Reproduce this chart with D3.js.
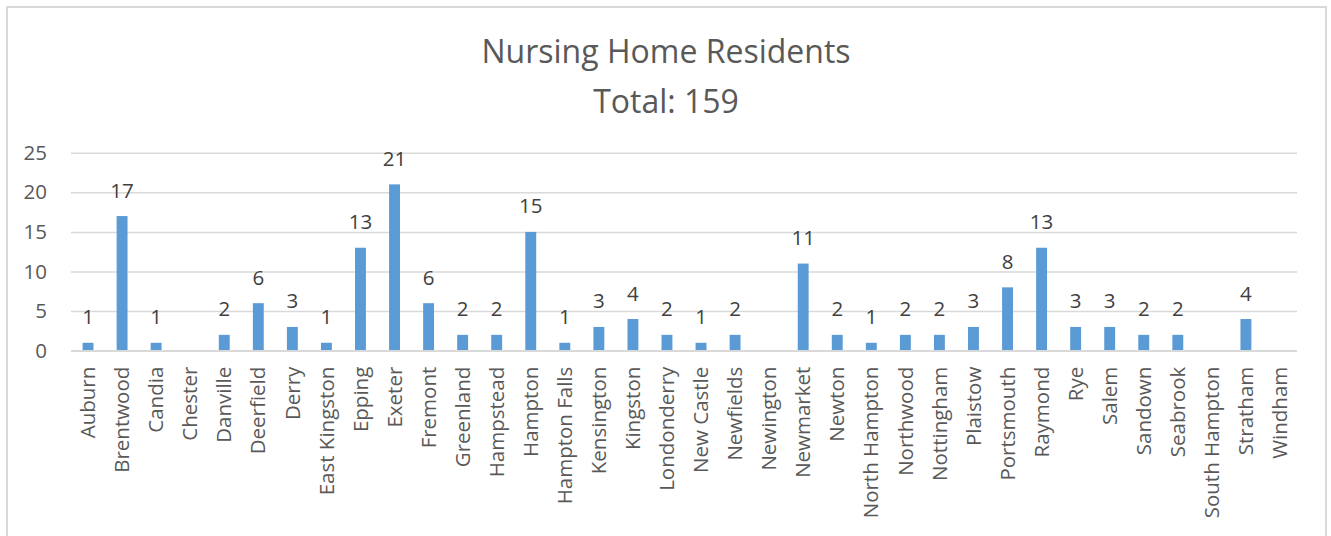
<!DOCTYPE html>
<html>
<head>
<meta charset="utf-8">
<script src="https://cdn.jsdelivr.net/npm/d3@7"></script>
<style>
  body { margin: 0; background: #fff; }
  svg { display: block; font-family: "Open Sans", sans-serif; }
</style>
</head>
<body>
<div id="chart"></div>
<script>
// towns and number of nursing home residents (null = no bar, no label)
const towns = ['Auburn', 'Brentwood', 'Candia', 'Chester', 'Danville', 'Deerfield', 'Derry',
    'East Kingston', 'Epping', 'Exeter', 'Fremont', 'Greenland', 'Hampstead', 'Hampton',
    'Hampton Falls', 'Kensington', 'Kingston', 'Londonderry', 'New Castle', 'Newfields',
    'Newington', 'Newmarket', 'Newton', 'North Hampton', 'Northwood', 'Nottingham',
    'Plaistow', 'Portsmouth', 'Raymond', 'Rye', 'Salem', 'Sandown', 'Seabrook',
    'South Hampton', 'Stratham', 'Windham'];
const residents = [1, 17, 1, null, 2, 6, 3, 1, 13, 21, 6, 2, 2, 15, 1, 3, 4, 2, 1, 2,
    null, 11, 2, 1, 2, 2, 3, 8, 13, 3, 3, 2, 2, null, 4, null];
const yTicks = [0, 5, 10, 15, 20, 25];
const titleLines = ['Nursing Home Residents', 'Total: 159'];

drawChart('#chart');

function drawChart(el) {
    const pageWidth = 1331;
    const pageHeight = 536;
    const left = 71, right = 1297, top = 152.7, bottom = 350.7;
    const textColor = '#595959';
    const gridColor = '#d9d9d9';
    const barColor = '#5b9bd5';
    const fontSize = '20.5px';

    const data = towns.map((t, i) => ({ town: t, value: residents[i] }));

    const svg = d3.select(el).append('svg')
        .attr('width', pageWidth)
        .attr('height', pageHeight);

    // chart border
    svg.append('rect')
        .attr('x', 7).attr('y', 7)
        .attr('width', 1319).attr('height', 560)
        .attr('fill', 'none')
        .attr('stroke', gridColor)
        .attr('stroke-width', 2);

    // title
    svg.append('g').selectAll('text')
        .data(titleLines)
        .enter().append('text')
        .attr('x', 666)
        .attr('y', (d, i) => 63.3 + i * 50)
        .attr('text-anchor', 'middle')
        .attr('fill', textColor)
        .style('font-size', '32px')
        .text(d => d);

    var x = d3.scaleBand()
        .domain(towns)
        .range([left, right])
        .paddingInner(0.68)
        .paddingOuter(0.34);

    var y = d3.scaleLinear()
        .domain([0, 25])
        .range([bottom, top]);

    // gridlines + y labels
    svg.append('g')
        .attr('transform', 'translate(' + left + ',0)')
        .call(d3.axisLeft(y).tickValues(yTicks).tickSize(-(right - left)).tickPadding(24))
        .call(g => g.select('.domain').remove())
        .call(g => g.selectAll('.tick line').attr('stroke', gridColor).attr('stroke-width', 1.5))
        .call(g => g.selectAll('.tick text')
            .attr('fill', textColor)
            .style('font-size', fontSize)
            .style('font-family', '"Open Sans", sans-serif'));

    // bars
    svg.append('g').selectAll('rect')
        .data(data.filter(d => d.value !== null))
        .enter().append('rect')
        .attr('x', d => x(d.town))
        .attr('y', d => y(d.value))
        .attr('width', x.bandwidth())
        .attr('height', d => y(0) - y(d.value))
        .attr('fill', barColor);

    // bottom axis line drawn over bars
    svg.append('line')
        .attr('x1', left).attr('x2', right)
        .attr('y1', y(0)).attr('y2', y(0))
        .attr('stroke', gridColor)
        .attr('stroke-width', 1.5);

    // data labels
    svg.append('g').selectAll('text')
        .data(data.filter(d => d.value !== null))
        .enter().append('text')
        .attr('x', d => x(d.town) + x.bandwidth() / 2)
        .attr('y', d => y(d.value) - 18.5)
        .attr('text-anchor', 'middle')
        .attr('fill', '#404040')
        .style('font-size', fontSize)
        .text(d => d.value);

    // category labels
    svg.append('g').selectAll('text')
        .data(towns)
        .enter().append('text')
        .attr('transform', d => 'translate(' + (x(d) + x.bandwidth() / 2) + ',' + (bottom + 16) + ') rotate(-90)')
        .attr('dy', '0.35em')
        .attr('text-anchor', 'end')
        .attr('fill', textColor)
        .style('font-size', fontSize)
        .text(d => d);
}
</script>
</body>
</html>
